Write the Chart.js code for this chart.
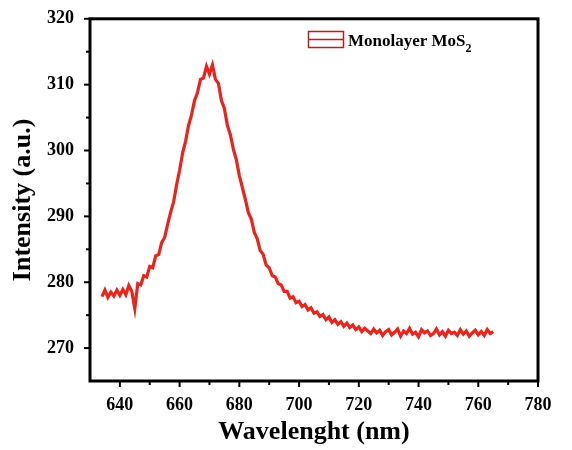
<!DOCTYPE html>
<html>
<head>
<meta charset="utf-8">
<script src="https://cdn.jsdelivr.net/npm/chart.js@4"></script>
<style>
  html, body { margin: 0; padding: 0; background: #fff; }
  #wrap { width: 572px; height: 450px; }
</style>
</head>
<body>
<div id="wrap"><canvas id="pl-chart"></canvas></div>
<script>
// wavelength (nm), one reading per nm
const wavelengths = [
  634, 635, 636, 637, 638, 639, 640, 641, 642, 643, 644, 645, 646, 647, 648, 649,
  650, 651, 652, 653, 654, 655, 656, 657, 658, 659, 660, 661, 662, 663, 664, 665,
  666, 667, 668, 669, 670, 671, 672, 673, 674, 675, 676, 677, 678, 679, 680, 681,
  682, 683, 684, 685, 686, 687, 688, 689, 690, 691, 692, 693, 694, 695, 696, 697,
  698, 699, 700, 701, 702, 703, 704, 705, 706, 707, 708, 709, 710, 711, 712, 713,
  714, 715, 716, 717, 718, 719, 720, 721, 722, 723, 724, 725, 726, 727, 728, 729,
  730, 731, 732, 733, 734, 735, 736, 737, 738, 739, 740, 741, 742, 743, 744, 745,
  746, 747, 748, 749, 750, 751, 752, 753, 754, 755, 756, 757, 758, 759, 760, 761,
  762, 763, 764, 765
];

// PL intensity (a.u.)
const intensity = [
  277.8, 278.8, 277.7, 278.5, 277.9, 278.8, 278.0, 278.9, 278.1, 279.5, 278.6, 276.0, 279.8, 279.6, 281.0, 280.8,
  282.4, 282.2, 284.0, 284.2, 286.0, 286.8, 288.8, 290.6, 292.2, 294.8, 297.0, 299.6, 301.4, 303.8, 305.4, 307.6,
  308.8, 310.8, 311.0, 312.8, 311.6, 313.0, 310.8, 310.2, 307.6, 306.4, 303.8, 302.4, 300.2, 298.6, 296.2, 294.4,
  292.6, 290.6, 289.6, 287.6, 286.6, 284.8, 284.2, 282.6, 282.2, 281.0, 280.8, 279.8, 279.6, 278.6, 278.6, 277.6,
  277.8, 276.9, 277.1, 276.3, 276.6, 275.8, 276.1, 275.3, 275.5, 274.8, 275.1, 274.3, 274.7, 273.9, 274.3, 273.6,
  274.0, 273.3, 273.8, 273.1, 273.5, 272.8, 273.2, 272.5, 273.0, 272.6, 272.2, 272.9, 272.3, 272.7, 271.9, 272.5,
  272.8, 272.0, 272.4, 272.9, 271.8, 272.6, 272.2, 273.0, 272.1, 272.4, 271.7, 272.8, 272.3, 272.6, 271.9, 272.2,
  272.9, 272.0, 272.5, 271.8, 272.7, 272.2, 272.4, 271.9, 272.8, 272.1, 272.6, 271.8, 272.3, 272.7, 272.0, 272.5,
  271.9, 272.8, 272.2, 272.5
];

const xTicks = [640, 660, 680, 700, 720, 740, 760, 780];
const xMinorTicks = [650, 670, 690, 710, 730, 750, 770];
const yTicks = [270, 280, 290, 300, 310, 320];
const yMinorTicks = [275, 285, 295, 305, 315];

const seriesName = 'Monolayer MoS';
const lineColor = 'rgb(232, 36, 28)';
const serif = '"Liberation Serif", "Times New Roman", serif';

// black frame with outward ticks, like the Origin plot
const framePlugin = {
  id: 'frame',
  afterDraw(chart) {
    const { ctx, chartArea: a, scales } = chart;
    ctx.save();
    ctx.strokeStyle = '#000';
    ctx.lineWidth = 3;
    ctx.strokeRect(a.left, a.top, a.right - a.left, a.bottom - a.top);
    ctx.lineWidth = 2;
    const xTick = (v, len) => {
      const px = scales.x.getPixelForValue(v);
      ctx.beginPath();
      ctx.moveTo(px, a.bottom);
      ctx.lineTo(px, a.bottom + len);
      ctx.stroke();
    };
    const yTick = (v, len) => {
      const py = scales.y.getPixelForValue(v);
      ctx.beginPath();
      ctx.moveTo(a.left, py);
      ctx.lineTo(a.left - len, py);
      ctx.stroke();
    };
    xTicks.forEach(v => xTick(v, 6));
    xMinorTicks.forEach(v => xTick(v, 4));
    yTicks.forEach(v => yTick(v, 6));
    yMinorTicks.forEach(v => yTick(v, 4));
    ctx.restore();
  }
};

// legend box with subscript 2
const legendPlugin = {
  id: 'pl-legend',
  afterDraw(chart) {
    const { ctx } = chart;
    ctx.save();
    ctx.strokeStyle = 'rgb(178, 34, 34)';
    ctx.lineWidth = 1.5;
    ctx.strokeRect(308.5, 31.5, 35, 16);
    ctx.beginPath();
    ctx.moveTo(308, 39.5);
    ctx.lineTo(344, 39.5);
    ctx.stroke();
    ctx.fillStyle = '#000';
    ctx.textBaseline = 'alphabetic';
    ctx.font = 'bold 17px ' + serif;
    ctx.fillText(seriesName, 348, 46);
    const w = ctx.measureText(seriesName).width;
    ctx.font = 'bold 12px ' + serif;
    ctx.fillText('2', 348 + w, 52);
    ctx.restore();
  }
};

function createSpectrumChart() {
  const ctx = document.getElementById('pl-chart').getContext('2d');
  new Chart(ctx, {
    type: 'line',
    data: {
      datasets: [
        {
          label: seriesName + '2',
          data: wavelengths.map((w, i) => ({ x: w, y: intensity[i] })),
          borderColor: lineColor,
          borderWidth: 3.2,
          pointRadius: 0,
          tension: 0,
          fill: false,
        },
      ],
    },
    options: {
      responsive: true,
      maintainAspectRatio: false,
      animation: false,
      layout: {
        padding: { top: 17, right: 34, left: 0, bottom: 0 },
      },
      plugins: {
        legend: { display: false },
        tooltip: { enabled: false },
      },
      scales: {
        x: {
          type: 'linear',
          min: 630,
          max: 780,
          afterBuildTicks: (scale) => { scale.ticks = xTicks.map(v => ({ value: v })); },
          afterFit: (scale) => { scale.height = 69; },
          grid: { display: false },
          border: { display: false },
          ticks: {
            color: '#000',
            padding: 6,
            maxRotation: 0,
            font: { family: serif, size: 18, weight: 'bold' },
          },
          title: {
            display: true,
            text: 'Wavelenght (nm)',
            color: '#000',
            padding: { top: 0, bottom: 2 },
            font: { family: serif, size: 26, weight: 'bold' },
          },
        },
        y: {
          min: 265,
          max: 320,
          afterBuildTicks: (scale) => { scale.ticks = yTicks.map(v => ({ value: v })); },
          afterFit: (scale) => { scale.width = 90; },
          grid: { display: false },
          border: { display: false },
          ticks: {
            color: '#000',
            padding: 8,
            font: { family: serif, size: 18, weight: 'bold' },
          },
          title: {
            display: true,
            text: 'Intensity (a.u.)',
            color: '#000',
            padding: { top: 8, bottom: 0 },
            font: { family: serif, size: 26, weight: 'bold' },
          },
        },
      },
    },
    plugins: [framePlugin, legendPlugin],
  });
}

document.addEventListener('DOMContentLoaded', () => {
  createSpectrumChart();
});
</script>
</body>
</html>
